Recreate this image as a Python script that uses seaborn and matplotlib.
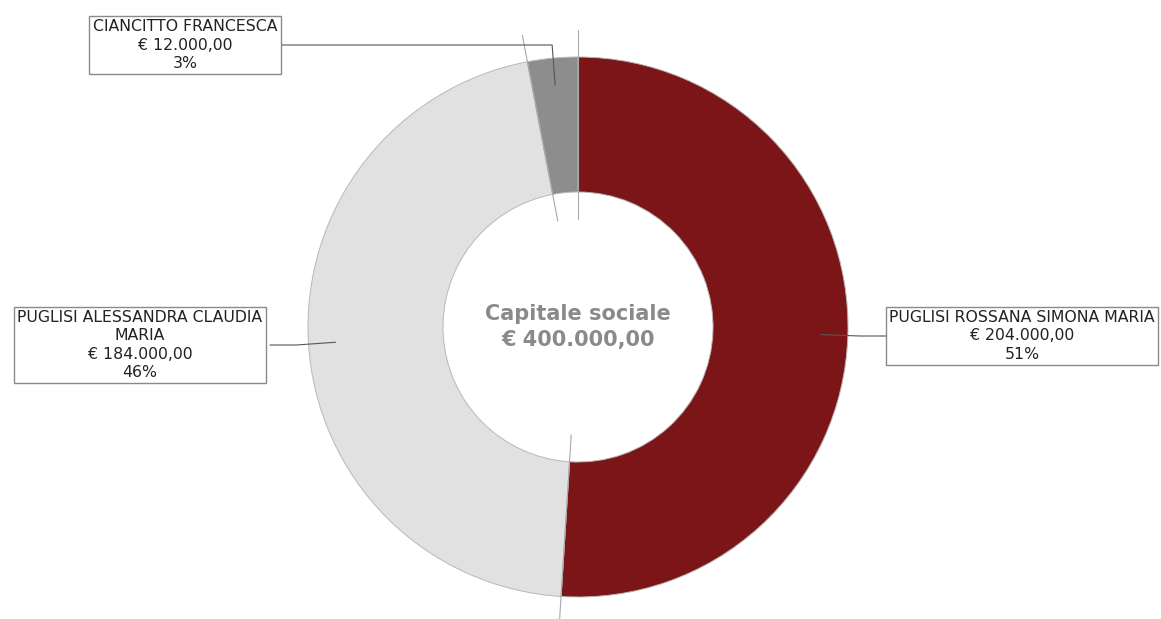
import numpy as np
import matplotlib.pyplot as plt
import seaborn as sns

soci = ['PUGLISI ROSSANA SIMONA MARIA', 'PUGLISI ALESSANDRA CLAUDIA\nMARIA', 'CIANCITTO FRANCESCA']
quote = [204000, 184000, 12000]
colori = ['#7b1518', '#e1e1e1', '#8d8d8d']
titolo_centro = 'Capitale sociale'


def euro(v):
    s = f'{v:,.2f}'
    return '€ ' + s.replace(',', 'X').replace('.', ',').replace('X', '.')


sns.set_theme(style='white', font='DejaVu Sans')
plt.rcParams['font.family'] = ['DejaVu Sans']
plt.rcParams['font.sans-serif'] = ['DejaVu Sans']

W, H = 1161, 619
fig = plt.figure(figsize=(W / 100, H / 100), dpi=100)
ax = fig.add_axes([0, 0, 1, 1])

cx, cy = 578, H - 327
R, w = 270, 135
wedges, _ = ax.pie(quote, colors=colori, radius=R, center=(cx, cy), startangle=90,
                   counterclock=False, frame=True,
                   wedgeprops=dict(width=w, edgecolor='#b8b8b8', linewidth=0.7))
ax.set_xlim(0, W)
ax.set_ylim(0, H)
ax.set_aspect('equal')
ax.axis('off')

totale = sum(quote)
ax.text(cx, cy, titolo_centro + '\n' + euro(totale), ha='center', va='center',
        fontsize=15, fontweight='bold', color='#8a8a8a', linespacing=1.35,
        family='DejaVu Sans')

# linee ai bordi degli spicchi
for wd in wedges:
    a = np.deg2rad(wd.theta1)
    r0, r1 = 0.8 * (R - w), 1.1 * R
    ax.plot([cx + r0 * np.cos(a), cx + r1 * np.cos(a)],
            [cy + r0 * np.sin(a), cy + r1 * np.sin(a)], color='#a8a8a8', lw=0.8)

# posizione dei riquadri (centro x, centro y in pixel dall'alto), gomito delle linee
box_pos = [(1022, 336), (140, 345), (185, 45)]
box_edge = [886, 270, 281]

for i, wd in enumerate(wedges):
    pct = round(quote[i] / totale * 100)
    testo = f'{soci[i]}\n{euro(quote[i])}\n{pct}%'
    bx, by = box_pos[i]
    ax.text(bx, H - by, testo, ha='center', va='center', fontsize=11.3, color='#222222',
            linespacing=1.28, family='DejaVu Sans',
            bbox=dict(boxstyle='square,pad=0.22', fc='white', ec='#8a8a8a', lw=1))
    a = np.deg2rad((wd.theta1 + wd.theta2) / 2)
    px, py = cx + 0.9 * R * np.cos(a), cy + 0.9 * R * np.sin(a)
    ey = H - by
    if i == 2:
        xs, ys = [px, px - 3, box_edge[i]], [py, ey, ey]
    else:
        xs, ys = [px, px + (box_edge[i] - px) * 0.6, box_edge[i]], [py, ey, ey]
    ax.plot(xs, ys, color='#555555', lw=0.8)

fig.savefig('out.png', dpi=100)
